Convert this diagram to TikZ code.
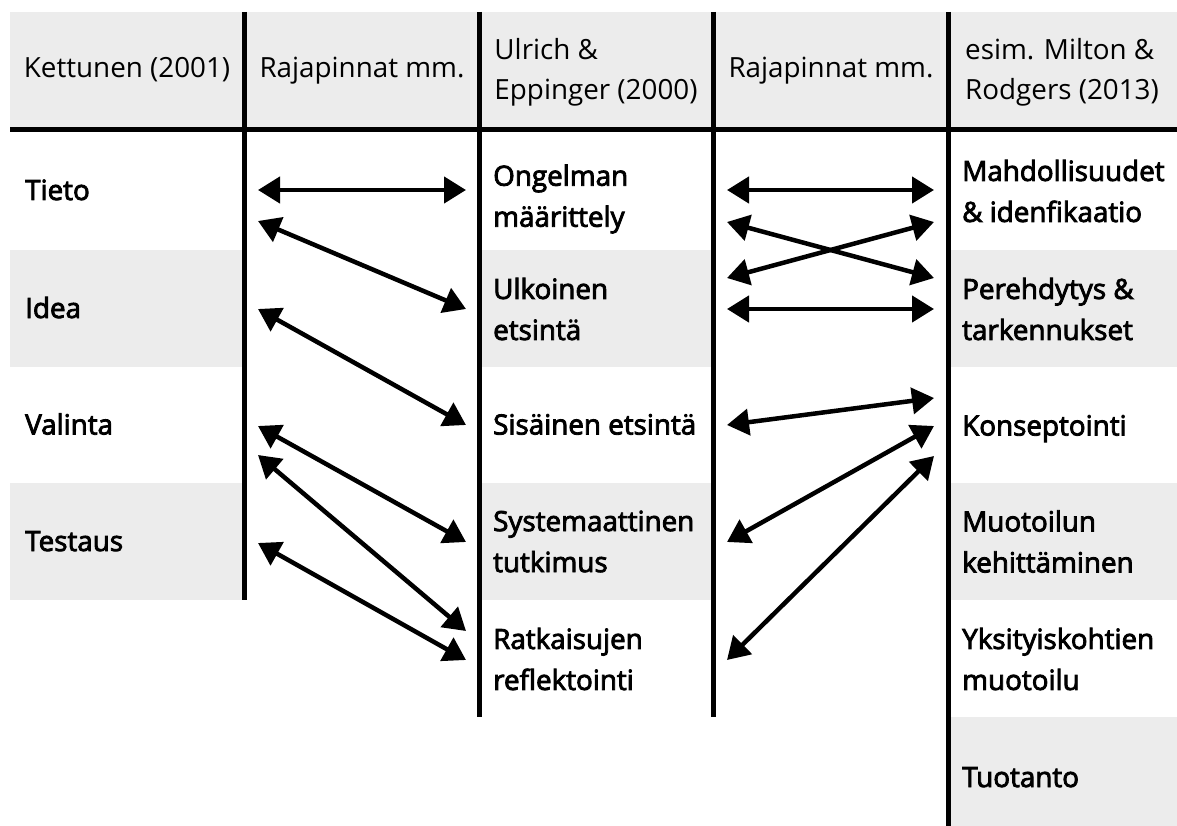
\documentclass[tikz,border=0pt]{standalone}
\usepackage{fontspec}
\setmainfont{Open Sans}
\newfontfamily\bodyfont[FakeBold=3]{Open Sans}
\usetikzlibrary{arrows.meta}
\definecolor{rowgray}{HTML}{ECECEC}

\begin{document}
\begin{tikzpicture}[x=1pt,y=-1pt,
  rule/.style={line width=5pt, black},
  link/.style={line width=4.5pt,
    {Triangle[length=22pt,width=26pt]}-{Triangle[length=22pt,width=26pt]}},
  head/.style={font=\fontsize{27.8}{40}\selectfont, align=left, inner sep=0pt},
  cell/.style={font=\bodyfont\fontsize{27.8}{41}\selectfont, align=left,
    inner sep=0pt, anchor=west},
  cell1/.style={cell, text height=20pt, text depth=6pt},
]
\useasboundingbox (0,0) rectangle (1177,826);

% shaded header band and alternating row bands
\fill[rowgray] (10,12) rectangle (1177,128);
\fill[rowgray] (10,250) rectangle (244,367);
\fill[rowgray] (10,483) rectangle (244,600);
\fill[rowgray] (479,250) rectangle (714,367);
\fill[rowgray] (479,483) rectangle (714,600);
\fill[rowgray] (948,250) rectangle (1177,367);
\fill[rowgray] (948,483) rectangle (1177,600);
\fill[rowgray] (948,717) rectangle (1177,826);

% table rules
\draw[rule] (10,129.5) -- (1177,129.5);
\draw[rule] (244.5,12) -- (244.5,600);
\draw[rule] (479,12) -- (479,717);
\draw[rule] (713.5,12) -- (713.5,717);
\draw[rule] (948,12) -- (948,826);

% column headings
\node[head, text height=20pt, text depth=6pt] (h1) at (127,71) {Kettunen (2001)};
\node[head, text height=20pt, text depth=6pt] (h2) at (362,71) {Rajapinnat mm.};
\node[head] (h3) at (596,72) {Ulrich \&\\Eppinger (2000)};
\node[head, text height=20pt, text depth=6pt] (h4) at (831,71) {Rajapinnat mm.};
\node[head] (h5) at (1062,72) {esim. Milton \&\\Rodgers (2013)};

% Kettunen phases
\node[cell1] (tieto) at (25,193) {Tieto};
\node[cell1] (idea) at (25,311) {Idea};
\node[cell1] (valinta) at (25,427.5) {Valinta};
\node[cell1] (testaus) at (25,544) {Testaus};

% Ulrich & Eppinger phases
\node[cell] (ongelman) at (493,199) {Ongelman\\määrittely};
\node[cell] (ulkoinen) at (493,309) {Ulkoinen\\etsintä};
\node[cell1] (sisainen) at (493,427.5) {Sisäinen etsintä};
\node[cell] (systemaattinen) at (493,541.5) {Systemaattinen\\tutkimus};
\node[cell] (ratkaisujen) at (493,659) {Ratkaisujen\\reflektointi};

% Milton & Rodgers phases
\node[cell] (mahdollisuudet) at (962,191) {Mahdollisuudet\\\& idenfikaatio};
\node[cell] (perehdytys) at (962,309) {Perehdytys \&\\tarkennukset};
\node[cell1] (konseptointi) at (962,428.5) {Konseptointi};
\node[cell] (muotoilun) at (962,541.5) {Muotoilun\\kehittäminen};
\node[cell] (yksityiskohtien) at (962,659) {Yksityiskohtien\\muotoilu};
\node[cell1] (tuotanto) at (962,780) {Tuotanto};

% connector ends, left interface column
\coordinate (tieto-a) at (258,190);
\coordinate (tieto-b) at (258,221);
\coordinate (idea-a) at (258,309);
\coordinate (valinta-a) at (258,426);
\coordinate (valinta-b) at (258,455);
\coordinate (testaus-a) at (258,543);
\coordinate (ongelman-l) at (466,190);
\coordinate (ulkoinen-l) at (466,309);
\coordinate (sisainen-l) at (466,425);
\coordinate (systemaattinen-l) at (466,542);
\coordinate (ratkaisujen-la) at (466,631);
\coordinate (ratkaisujen-lb) at (466,660);

% connector ends, right interface column
\coordinate (ongelman-ra) at (727,190);
\coordinate (ongelman-rb) at (727,222);
\coordinate (ulkoinen-ra) at (727,278);
\coordinate (ulkoinen-rb) at (727,309);
\coordinate (sisainen-r) at (727,425);
\coordinate (systemaattinen-r) at (727,542);
\coordinate (ratkaisujen-r) at (727,660);
\coordinate (mahdollisuudet-a) at (934,190);
\coordinate (mahdollisuudet-b) at (934,222);
\coordinate (perehdytys-a) at (934,278);
\coordinate (perehdytys-b) at (934,309);
\coordinate (konseptointi-a) at (934,398);
\coordinate (konseptointi-b) at (934,426);
\coordinate (konseptointi-c) at (934,456);

% Kettunen <-> Ulrich & Eppinger
\draw[link] (tieto-a) -- (ongelman-l);
\draw[link] (tieto-b) -- (ulkoinen-l);
\draw[link] (idea-a) -- (sisainen-l);
\draw[link] (valinta-a) -- (systemaattinen-l);
\draw[link] (valinta-b) -- (ratkaisujen-la);
\draw[link] (testaus-a) -- (ratkaisujen-lb);

% Ulrich & Eppinger <-> Milton & Rodgers
\draw[link] (ongelman-ra) -- (mahdollisuudet-a);
\draw[link] (ongelman-rb) -- (perehdytys-a);
\draw[link] (ulkoinen-ra) -- (mahdollisuudet-b);
\draw[link] (ulkoinen-rb) -- (perehdytys-b);
\draw[link] (sisainen-r) -- (konseptointi-a);
\draw[link] (systemaattinen-r) -- (konseptointi-b);
\draw[link] (ratkaisujen-r) -- (konseptointi-c);
\end{tikzpicture}
\end{document}
